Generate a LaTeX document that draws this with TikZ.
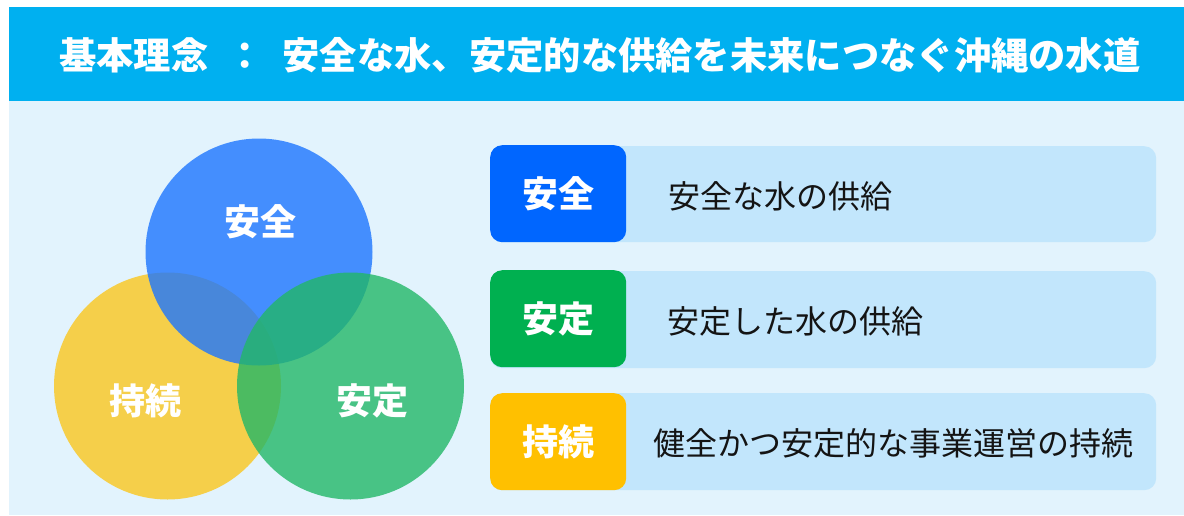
\documentclass[tikz,border=0pt]{standalone}
\usepackage{fontspec}
\setmainfont{Noto Sans CJK JP}
\definecolor{headcol}{RGB}{0,176,240}
\definecolor{bodycol}{RGB}{226,243,253}
\definecolor{rowcol}{RGB}{194,230,252}
\definecolor{tabblue}{RGB}{0,102,255}
\definecolor{tabgreen}{RGB}{0,176,80}
\definecolor{tabyellow}{RGB}{255,192,0}
\definecolor{cblue}{RGB}{29,117,255}
\definecolor{cyellow}{RGB}{250,198,30}
\definecolor{cgreen}{RGB}{34,183,103}
\definecolor{txt}{RGB}{20,20,20}
\begin{document}
\begin{tikzpicture}[x=1pt,y=-1pt,
  venn/.style={circle,draw=none,minimum size=227pt,inner sep=0pt,fill opacity=0.8},
  vennlabel/.style={text=white,font=\fontsize{36}{36}\selectfont\bfseries,inner sep=0pt},
  rowbox/.style={rectangle,rounded corners=12pt,fill=rowcol,draw=none,minimum width=666pt,minimum height=97pt,anchor=north west,inner sep=0pt},
  tabbox/.style={rectangle,rounded corners=12pt,draw=none,minimum width=136pt,minimum height=97pt,anchor=north west,inner sep=0pt,text=white,font=\fontsize{36}{36}\selectfont\bfseries},
  rowtext/.style={anchor=west,inner sep=0pt,text=txt,font=\fontsize{32}{32}\selectfont}]
\useasboundingbox (0,0) rectangle (1184,515);
% background
\fill[white] (0,0) rectangle (1184,515);
\node[rectangle,fill=headcol,draw=none,anchor=north west,minimum width=1175pt,minimum height=94pt,inner sep=0pt] (header) at (9,7) {};
\node[rectangle,fill=bodycol,draw=none,anchor=north west,minimum width=1175pt,minimum height=414pt,inner sep=0pt] (body) at (9,101) {};
\node[anchor=west,inner sep=0pt,text=white,font=\fontsize{37.3}{37.3}\selectfont\bfseries] (title) at (59,55)
  {基本理念\hspace{18pt}：\hspace{19pt}安全な水、安定的な供給を未来につなぐ沖縄の水道};
% venn circles
\node[venn,fill=cyellow] (cy) at (167.5,386) {};
\node[venn,fill=cblue] (cb) at (259,252) {};
\node[venn,fill=cgreen] (cg) at (350.5,386) {};
\node[vennlabel] (lb) at (260,222) {安全};
\node[vennlabel] (ly) at (145,401) {持続};
\node[vennlabel] (lg) at (372,401) {安定};
% rows
\node[rowbox,minimum height=96pt] (r1) at (490,146) {};
\node[rowbox] (r2) at (490,271) {};
\node[rowbox] (r3) at (490,393) {};
\node[tabbox,fill=tabblue] (t1) at (490,145) {安全};
\node[tabbox,fill=tabgreen] (t2) at (490,270) {安定};
\node[tabbox,fill=tabyellow] (t3) at (490,393) {持続};
\node[rowtext] (x1) at (668,196) {安全な水の供給};
\node[rowtext] (x2) at (667,321) {安定した水の供給};
\node[rowtext] (x3) at (653,443) {健全かつ安定的な事業運営の持続};
\end{tikzpicture}
\end{document}
